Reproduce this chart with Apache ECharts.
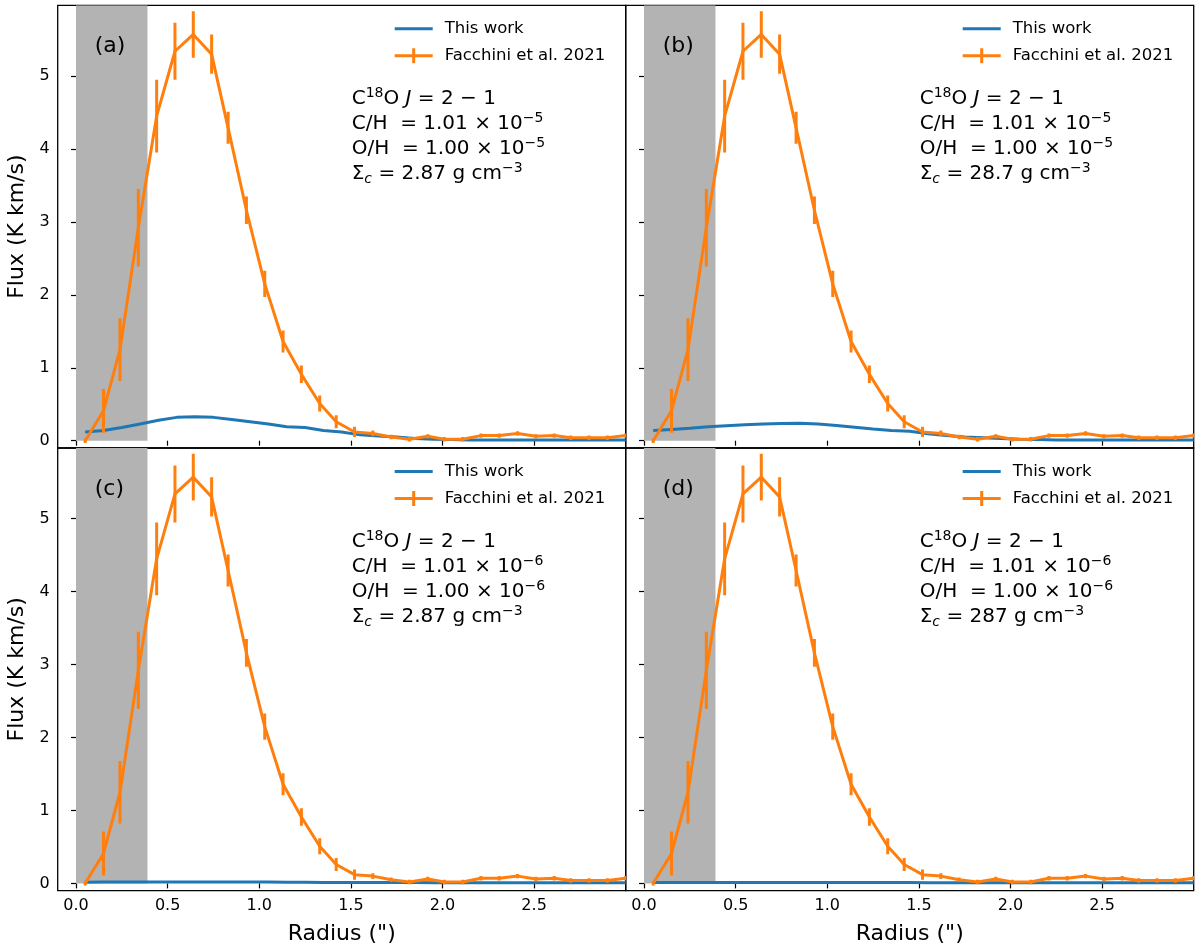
<!DOCTYPE html>
<html>
<head>
<meta charset="utf-8">
<script src="https://cdn.jsdelivr.net/npm/echarts@6/dist/echarts.min.js"></script>
<style>html,body{margin:0;padding:0;background:#fff;}#c{width:1200px;height:952px;}</style>
</head>
<body>
<div id="c"></div>
<script>
// ---------------- data ----------------
const radiusObs = [0.05,0.15,0.24,0.34,0.44,0.54,0.64,0.74,0.83,0.93,1.03,1.13,1.23,1.33,1.42,1.52,1.62,1.72,1.82,1.92,2.01,2.11,2.21,2.31,2.41,2.51,2.61,2.70,2.80,2.90,3.00];
const fluxObs   = [0.00,0.41,1.25,2.92,4.45,5.34,5.57,5.30,4.29,3.16,2.15,1.36,0.91,0.51,0.26,0.12,0.10,0.05,0.02,0.06,0.02,0.02,0.07,0.07,0.10,0.06,0.07,0.04,0.04,0.04,0.07];
const fluxErr   = [0.03,0.30,0.43,0.53,0.50,0.39,0.32,0.27,0.22,0.19,0.18,0.15,0.12,0.11,0.09,0.07,0.04,0.03,0.03,0.03,0.03,0.03,0.03,0.03,0.03,0.03,0.03,0.03,0.03,0.03,0.03];

const radiusModel = [0.05,0.15,0.25,0.35,0.45,0.55,0.65,0.75,0.85,0.95,1.05,1.15,1.25,1.35,1.45,1.55,1.65,1.75,1.85,1.95,2.05,2.15,2.25,2.35,2.45,2.55,2.65,2.75,2.85,2.95,3.00];
const modelA = [0.12,0.14,0.18,0.23,0.28,0.32,0.33,0.32,0.29,0.26,0.23,0.19,0.18,0.14,0.12,0.08,0.065,0.05,0.03,0.02,0.015,0.01,0.01,0.01,0.01,0.01,0.01,0.01,0.01,0.01,0.01];
const modelB = [0.14,0.155,0.17,0.19,0.205,0.22,0.23,0.235,0.24,0.23,0.21,0.185,0.16,0.14,0.13,0.095,0.07,0.05,0.04,0.03,0.02,0.015,0.01,0.01,0.01,0.01,0.01,0.01,0.01,0.01,0.01];
const modelC = [0.015,0.018,0.02,0.02,0.02,0.02,0.02,0.02,0.02,0.02,0.018,0.016,0.015,0.014,0.013,0.012,0.012,0.011,0.011,0.01,0.01,0.01,0.01,0.01,0.01,0.01,0.01,0.01,0.01,0.01,0.01];
const modelD = [0.012,0.012,0.012,0.012,0.012,0.012,0.012,0.012,0.012,0.012,0.012,0.011,0.011,0.011,0.011,0.01,0.01,0.01,0.01,0.01,0.01,0.01,0.01,0.01,0.01,0.01,0.01,0.01,0.01,0.01,0.01];
const models = [modelA, modelB, modelC, modelD];

const shadeRange = [0, 0.39];
const xTicks = [0, 0.5, 1.0, 1.5, 2.0, 2.5];
const yTicks = [0, 1, 2, 3, 4, 5];
const xRange = [-0.1, 3.0];
const yRange = [-0.1, 5.97];

const panelLabels = ['(a)', '(b)', '(c)', '(d)'];
const abundC = ['1.01 × 10', '1.01 × 10', '1.01 × 10', '1.01 × 10'];
const abundO = ['1.00 × 10', '1.00 × 10', '1.00 × 10', '1.00 × 10'];
const abundExp = ['−5', '−5', '−6', '−6'];
const sigmaVals = ['2.87', '28.7', '2.87', '287'];

const legendNames = ['This work', 'Facchini et al. 2021'];

// ---------------- layout ----------------
const FONT = 'DejaVu Sans';
const BLUE = '#1f77b4', ORANGE = '#ff7f0e';
const PW = 568, PH = 442.7;
const L0 = 57.7, L1 = 625.7, T0 = 5.3, T1 = 448;
const pos = [[L0, T0], [L1, T0], [L0, T1], [L1, T1]];

// legend icons (tiny corner specks keep the bounding box 38x15 so bars stay thin)
const ICON_LINE  = 'path://M0,0 L0.01,0 L0.01,0.01 Z M0,6 L38,6 L38,9 L0,9 Z M37.99,14.99 L38,14.99 L38,15 Z';
const ICON_ERR   = 'path://M0,6 L38,6 L38,9 L0,9 Z M17.5,0 L20.5,0 L20.5,15 L17.5,15 Z';

const grids = [], xAxes = [], yAxes = [], series = [], legends = [], graphics = [];

pos.forEach((p, k) => {
  const isBottom = k >= 2, isLeft = (k % 2) === 0;
  grids.push({ left: p[0], top: p[1], width: PW, height: PH, show: true, borderColor: '#000', borderWidth: 1.3, backgroundColor: 'transparent', containLabel: false });
  xAxes.push({
    type: 'value', gridIndex: k, min: xRange[0], max: xRange[1],
    axisLine: { show: false },
    splitLine: { show: false },
    axisTick: { show: true, customValues: xTicks, length: 5, lineStyle: { color: '#000', width: 1.2 } },
    axisLabel: { show: isBottom, customValues: xTicks, formatter: v => v.toFixed(1), fontFamily: FONT, fontSize: 16, color: '#000', margin: 7 },
    name: isBottom ? 'Radius (")' : '', nameLocation: 'middle', nameGap: 33,
    nameTextStyle: { fontFamily: FONT, fontSize: 22, color: '#000' }
  });
  yAxes.push({
    type: 'value', gridIndex: k, min: yRange[0], max: yRange[1],
    axisLine: { show: false },
    splitLine: { show: false },
    axisTick: { show: true, customValues: yTicks, length: 5, lineStyle: { color: '#000', width: 1.2 } },
    axisLabel: { show: isLeft, customValues: yTicks, fontFamily: FONT, fontSize: 16, color: '#000', margin: 8 },
    name: isLeft ? 'Flux (K km/s)' : '', nameLocation: 'middle', nameGap: 29,
    nameTextStyle: { fontFamily: FONT, fontSize: 22, color: '#000' }
  });

  // grey shaded region
  series.push({
    type: 'custom', name: 'shade' + k, xAxisIndex: k, yAxisIndex: k, silent: true, z: 1, clip: true,
    data: [[shadeRange[0], shadeRange[1]]],
    renderItem: (params, api) => {
      const a = api.coord([api.value(0), 0]);
      const b = api.coord([api.value(1), yRange[1]]);
      return { type: 'rect', shape: { x: a[0], y: b[1], width: b[0] - a[0], height: a[1] - b[1] }, style: { fill: '#b3b3b3' } };
    }
  });
  // model line
  series.push({
    type: 'line', name: legendNames[0], xAxisIndex: k, yAxisIndex: k, z: 3,
    data: radiusModel.map((r, i) => [r, models[k][i]]),
    symbol: 'none', lineStyle: { color: BLUE, width: 3 }, itemStyle: { color: BLUE },
    emphasis: { disabled: true }, silent: true
  });
  // observation line
  series.push({
    type: 'line', name: legendNames[1], xAxisIndex: k, yAxisIndex: k, z: 4,
    data: radiusObs.map((r, i) => [r, fluxObs[i]]),
    symbol: 'none', lineStyle: { color: ORANGE, width: 3 }, itemStyle: { color: ORANGE },
    emphasis: { disabled: true }, silent: true
  });
  // error bars
  series.push({
    type: 'custom', name: 'err' + k, xAxisIndex: k, yAxisIndex: k, z: 4, silent: true, clip: true,
    data: radiusObs.map((r, i) => [r, fluxObs[i] - fluxErr[i], fluxObs[i] + fluxErr[i]]),
    renderItem: (params, api) => {
      const lo = api.coord([api.value(0), api.value(1)]);
      const hi = api.coord([api.value(0), api.value(2)]);
      return { type: 'line', shape: { x1: lo[0], y1: lo[1], x2: hi[0], y2: hi[1] }, style: { stroke: ORANGE, lineWidth: 3 } };
    }
  });

  legends.push({
    data: [
      { name: legendNames[0], icon: ICON_LINE, itemStyle: { color: BLUE } },
      { name: legendNames[1], icon: ICON_ERR, itemStyle: { color: ORANGE } }
    ],
    orient: 'vertical', left: p[0] + 337, top: p[1] + 15,
    itemWidth: 38, itemHeight: 15, itemGap: 10, padding: 0,
    selectedMode: false,
    textStyle: { fontFamily: FONT, fontSize: 16.5, color: '#000', lineHeight: 16, padding: [0, 0, 0, 7] }
  });

  graphics.push({
    type: 'text', left: p[0] + 37, top: p[1] + 30, z: 10,
    style: { text: panelLabels[k], fontFamily: FONT, fontSize: 22, fill: '#000' }
  });
  const txt =
    '{n|C}{sup|18}{n|O }{it|J}{n| = 2 − 1}\n' +
    '{n|C/H  = ' + abundC[k] + '}{sup|' + abundExp[k] + '}\n' +
    '{n|O/H  = ' + abundO[k] + '}{sup|' + abundExp[k] + '}\n' +
    '{n|Σ}{sub|c}{n| = ' + sigmaVals[k] + ' g cm}{sup|−3}';
  graphics.push({
    type: 'text', left: p[0] + 294, top: p[1] + 81, z: 10,
    style: {
      text: txt, fill: '#000', fontFamily: FONT, fontSize: 20, lineHeight: 25,
      rich: {
        n:   { fontFamily: FONT, fontSize: 20, lineHeight: 25, fill: '#000' },
        it:  { fontFamily: FONT, fontSize: 20, lineHeight: 25, fontStyle: 'italic', fill: '#000' },
        sup: { fontFamily: FONT, fontSize: 14, lineHeight: 14, verticalAlign: 'top', fill: '#000' },
        sub: { fontFamily: FONT, fontSize: 14, lineHeight: 12, verticalAlign: 'bottom', fontStyle: 'italic', fill: '#000' }
      }
    }
  });
});

const chart = echarts.init(document.getElementById('c'), null, { renderer: 'canvas' });
chart.setOption({
  animation: false,
  backgroundColor: '#fff',
  grid: grids, xAxis: xAxes, yAxis: yAxes, series: series, legend: legends, graphic: graphics
});
</script>
</body>
</html>
